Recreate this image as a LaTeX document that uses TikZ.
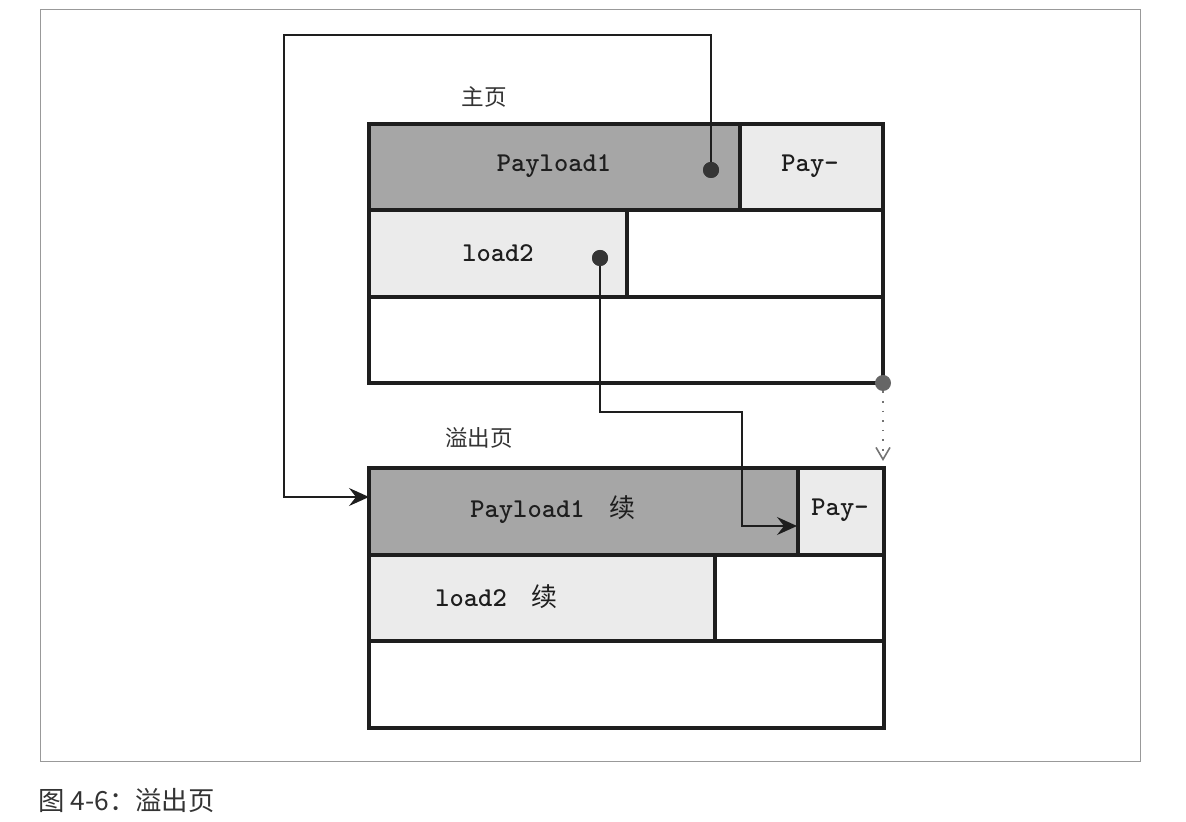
\documentclass[tikz,border=0pt]{standalone}
\usepackage{fontspec}
\newfontfamily\cjk{Noto Sans CJK SC}
\usetikzlibrary{arrows.meta}
\definecolor{darkcell}{HTML}{A6A6A6}
\definecolor{lightcell}{HTML}{EBEBEB}
\definecolor{inkc}{HTML}{1E1E1E}
\tikzset{
  boxline/.style={draw=inkc, line width=2pt},
  dcell/.style={fill=darkcell},
  lcell/.style={fill=lightcell},
  celltext/.style={inner sep=0pt, font=\fontsize{13.6}{16}\ttfamily\bfseries, text=inkc},
  pagelabel/.style={inner sep=0pt, font=\fontsize{11.3}{13}\cjk, text=black!80},
  dotnode/.style={circle, fill=inkc!90, minimum size=8pt, inner sep=0pt},
  conn/.style={draw=inkc, line width=0.75pt, -{Stealth[length=10pt,width=9pt,inset=3.5pt]}},
  pointer/.style={draw=black!55, line width=0.8pt, dash pattern=on 0.8pt off 4pt, -{Straight Barb[length=6pt,width=7pt]}},
}
\newcommand{\xu}{{\cjk\mdseries\fontsize{13}{16}\selectfont 续}}
\begin{document}
\begin{tikzpicture}[x=0.5pt,y=-0.5pt]
\useasboundingbox (0,0) rectangle (1186,822);
% outer frame
\draw[black!40, line width=0.5pt] (40,10) rectangle (1140,761);
% ---- main page ----
\fill[dcell] (369,124) rectangle (740,210);
\fill[lcell] (740,124) rectangle (883,210);
\fill[lcell] (369,210) rectangle (627,297);
\draw[boxline] (369,124) rectangle (883,383);
\draw[boxline] (369,210) -- (883,210);
\draw[boxline] (369,297) -- (883,297);
\draw[boxline] (740,124) -- (740,210);
\draw[boxline] (627,210) -- (627,297);
% ---- overflow page ----
\fill[dcell] (369,468) rectangle (798,555);
\fill[lcell] (798,468) rectangle (884,555);
\fill[lcell] (369,555) rectangle (715,641);
\draw[boxline] (369,468) rectangle (884,728);
\draw[boxline] (369,555) -- (884,555);
\draw[boxline] (369,641) -- (884,641);
\draw[boxline] (798,468) -- (798,555);
\draw[boxline] (715,555) -- (715,641);
% ---- labels ----
\node[pagelabel] (lmain) at (484,97) {主页};
\node[pagelabel] (lover) at (479,438) {溢出页};
\node[celltext] (t1) at (554,166) {Payload1};
\node[celltext] (t2) at (810,166) {Pay-};
\node[celltext] (t3) at (498,253) {load2};
\node[celltext, anchor=west] (t4) at (470,510) {Payload1\hspace{0.9em}\xu};
\node[celltext] (t5) at (840,510) {Pay-};
\node[celltext, anchor=west] (t6) at (435,597) {load2\hspace{0.9em}\xu};
% ---- pointer dots ----
\node[dotnode] (d1) at (711,170) {};
\node[dotnode] (d2) at (600,258) {};
\node[dotnode, fill=black!60] (d3) at (883,383) {};
\coordinate (k1) at (284,35);
\coordinate (e1) at (369,497);
\coordinate (k2) at (742,412);
\coordinate (e2) at (797,526);
\coordinate (e3) at (883,461);
\draw[conn] (d1.center) |- (k1) |- (e1);
\draw[conn] (d2.center) |- (k2) |- (e2);
\draw[pointer] (d3) -- (e3);
\node[dotnode] at (d1) {};
\node[dotnode] at (d2) {};
% ---- caption ----
\node[inner sep=0pt, anchor=west, font=\fontsize{13.2}{15}\cjk, text=black!80] (cap) at (38,801) {图 4-6：溢出页};
\end{tikzpicture}
\end{document}
